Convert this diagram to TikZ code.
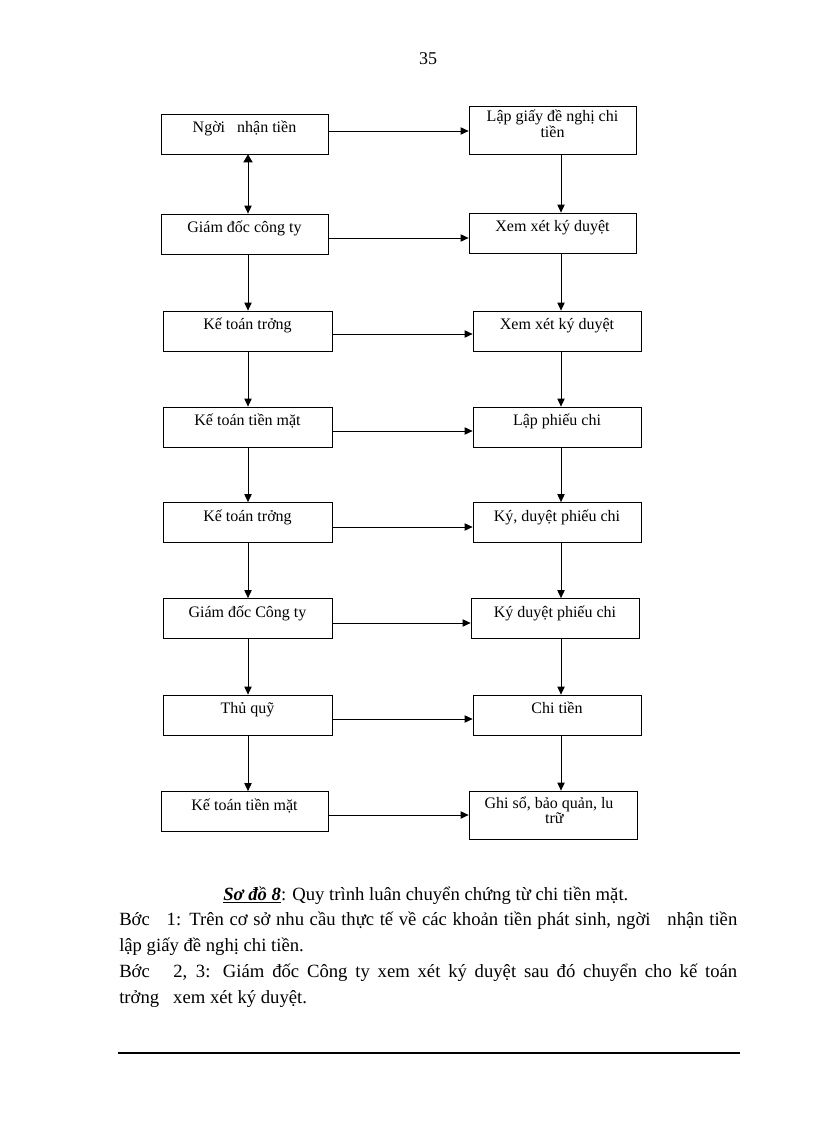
\documentclass[tikz,border=0pt]{standalone}
\usepackage{fontspec}
\setmainfont{Liberation Serif}
\usetikzlibrary{arrows.meta,calc}
\begin{document}
\begin{tikzpicture}[x=0.75pt,y=-0.75pt,
  bx/.style={draw, line width=0.6pt, inner sep=0pt, minimum height=30pt},
  wl/.style={minimum width=125.25pt},
  wr/.style={minimum width=126pt},
  lbl/.style={inner sep=0pt, anchor=base, align=center, font=\fontsize{12}{9.75}\selectfont},
  arr/.style={line width=0.65pt, -{Triangle[length=6pt,width=5.5pt]}},
  dblarr/.style={line width=0.65pt, {Triangle[length=6pt,width=7pt]}-{Triangle[length=6pt,width=5.5pt]}},
  body/.style={inner sep=0pt, anchor=base west, font=\fontsize{14}{19}\selectfont}
]
\useasboundingbox (0,0) rectangle (816,1123);

% page number
\node[inner sep=0pt, anchor=base, font=\fontsize{13.5}{16}\selectfont] (pg) at (428,65) {35};

% left column boxes
\node[bx, wl] (l1) at (244.5,134) {};
\node[bx, wl] (l2) at (244.5,234) {};
\node[bx, minimum width=126.75pt] (l3) at (247.5,331) {};
\node[bx, minimum width=126.75pt] (l4) at (247.5,427) {};
\node[bx, minimum width=126.75pt] (l5) at (247.5,522.5) {};
\node[bx, minimum width=126.75pt] (l6) at (247.5,618.5) {};
\node[bx, minimum width=126.75pt] (l7) at (247.5,715) {};
\node[bx, wl] (l8) at (244.5,811.5) {};

% right column boxes
\node[bx, wl, minimum height=36pt] (r1) at (552.5,130) {};
\node[bx, wl] (r2) at (552.5,233) {};
\node[bx, wr] (r3) at (557,331) {};
\node[bx, wr] (r4) at (557,427) {};
\node[bx, wr] (r5) at (557,522.5) {};
\node[bx, wr] (r6) at (555,618.5) {};
\node[bx, wr] (r7) at (557,715) {};
\node[bx, wr, minimum height=36pt] (r8) at (553,815) {};

% labels
\node[lbl] (tl1) at ($(l1.north)+(0,19)$) {Ngời\ \ \ nhận tiền};
\node[lbl] (tl2) at ($(l2.north)+(0,19)$) {Giám đốc công ty};
\node[lbl] (tl3) at ($(l3.north)+(0,19)$) {Kế toán trởng};
\node[lbl] (tl4) at ($(l4.north)+(0,19)$) {Kế toán tiền mặt};
\node[lbl] (tl5) at ($(l5.north)+(0,19)$) {Kế toán trởng};
\node[lbl] (tl6) at ($(l6.north)+(0,19)$) {Giám đốc Công ty};
\node[lbl] (tl7) at ($(l7.north)+(0,19)$) {Thủ quỹ};
\node[lbl] (tl8) at ($(l8.north)+(0,19)$) {Kế toán tiền mặt};

\node[lbl] (tr1) at ($(r1.north)+(0,32)$) {Lập giấy đề nghị chi\\tiền};
\node[lbl] (tr2) at ($(r2.north)+(0,19)$) {Xem xét ký duyệt};
\node[lbl] (tr3) at ($(r3.north)+(0,19)$) {Xem xét ký duyệt};
\node[lbl] (tr4) at ($(r4.north)+(0,19)$) {Lập phiếu chi};
\node[lbl] (tr5) at ($(r5.north)+(0,19)$) {Ký, duyệt phiếu chi};
\node[lbl] (tr6) at ($(r6.north)+(0,19)$) {Ký duyệt phiếu chi};
\node[lbl] (tr7) at ($(r7.north)+(0,19)$) {Chi tiền};
\node[lbl] (tr8) at ($(r8.north)+(-4,33)$) {Ghi sổ, bảo quản, lu\\\hspace*{8pt}trữ};

% horizontal arrows
\draw[arr] (l1.east |- 0,131) -- (r1.west |- 0,131);
\draw[arr] (l2.east |- 0,238) -- (r2.west |- 0,238);
\draw[arr] (l3.east |- 0,334) -- (r3.west |- 0,334);
\draw[arr] (l4.east |- 0,431) -- (r4.west |- 0,431);
\draw[arr] (l5.east |- 0,527) -- (r5.west |- 0,527);
\draw[arr] (l6.east |- 0,623) -- (r6.west |- 0,623);
\draw[arr] (l7.east |- 0,719) -- (r7.west |- 0,719);
\draw[arr] (l8.east |- 0,815) -- (r8.west |- 0,815);

% left vertical arrows
\draw[dblarr] (248,0 |- l1.south) -- (248,0 |- l2.north);
\draw[arr] (248,0 |- l2.south) -- (248,0 |- l3.north);
\draw[arr] (248,0 |- l3.south) -- (248,0 |- l4.north);
\draw[arr] (248,0 |- l4.south) -- (248,0 |- l5.north);
\draw[arr] (248,0 |- l5.south) -- (248,0 |- l6.north);
\draw[arr] (248,0 |- l6.south) -- (248,0 |- l7.north);
\draw[arr] (248,0 |- l7.south) -- (248,0 |- l8.north);

% right vertical arrows
\draw[arr] (561,0 |- r1.south) -- (561,0 |- r2.north);
\draw[arr] (561,0 |- r2.south) -- (561,0 |- r3.north);
\draw[arr] (561,0 |- r3.south) -- (561,0 |- r4.north);
\draw[arr] (561,0 |- r4.south) -- (561,0 |- r5.north);
\draw[arr] (561,0 |- r5.south) -- (561,0 |- r6.north);
\draw[arr] (561,0 |- r6.south) -- (561,0 |- r7.north);
\draw[arr] (561,0 |- r7.south) -- (561,0 |- r8.north);

% caption and text
\node[body] (cap) at (223,900) {\underline{\textbf{\textit{Sơ đồ 8}}}: Quy trình luân chuyển chứng từ chi tiền mặt.};
\node[body] (b1) at (119,925) {\makebox[463.5pt][s]{Bớc\ \ \ 1: Trên cơ sở nhu cầu thực tế về các khoản tiền phát sinh, ngời\ \ \ nhận tiền}};
\node[body] (b2) at (119,951) {lập giấy đề nghị chi tiền.};
\node[body] (b3) at (119,977) {\makebox[463.5pt][s]{Bớc\ \ \ 2, 3: Giám đốc Công ty xem xét ký duyệt sau đó chuyển cho kế toán}};
\node[body] (b4) at (119,1003) {trởng\ \ \ xem xét ký duyệt.};

% bottom rule
\draw[line width=1.1pt] (118,1053) -- (740,1053);
\end{tikzpicture}
\end{document}
